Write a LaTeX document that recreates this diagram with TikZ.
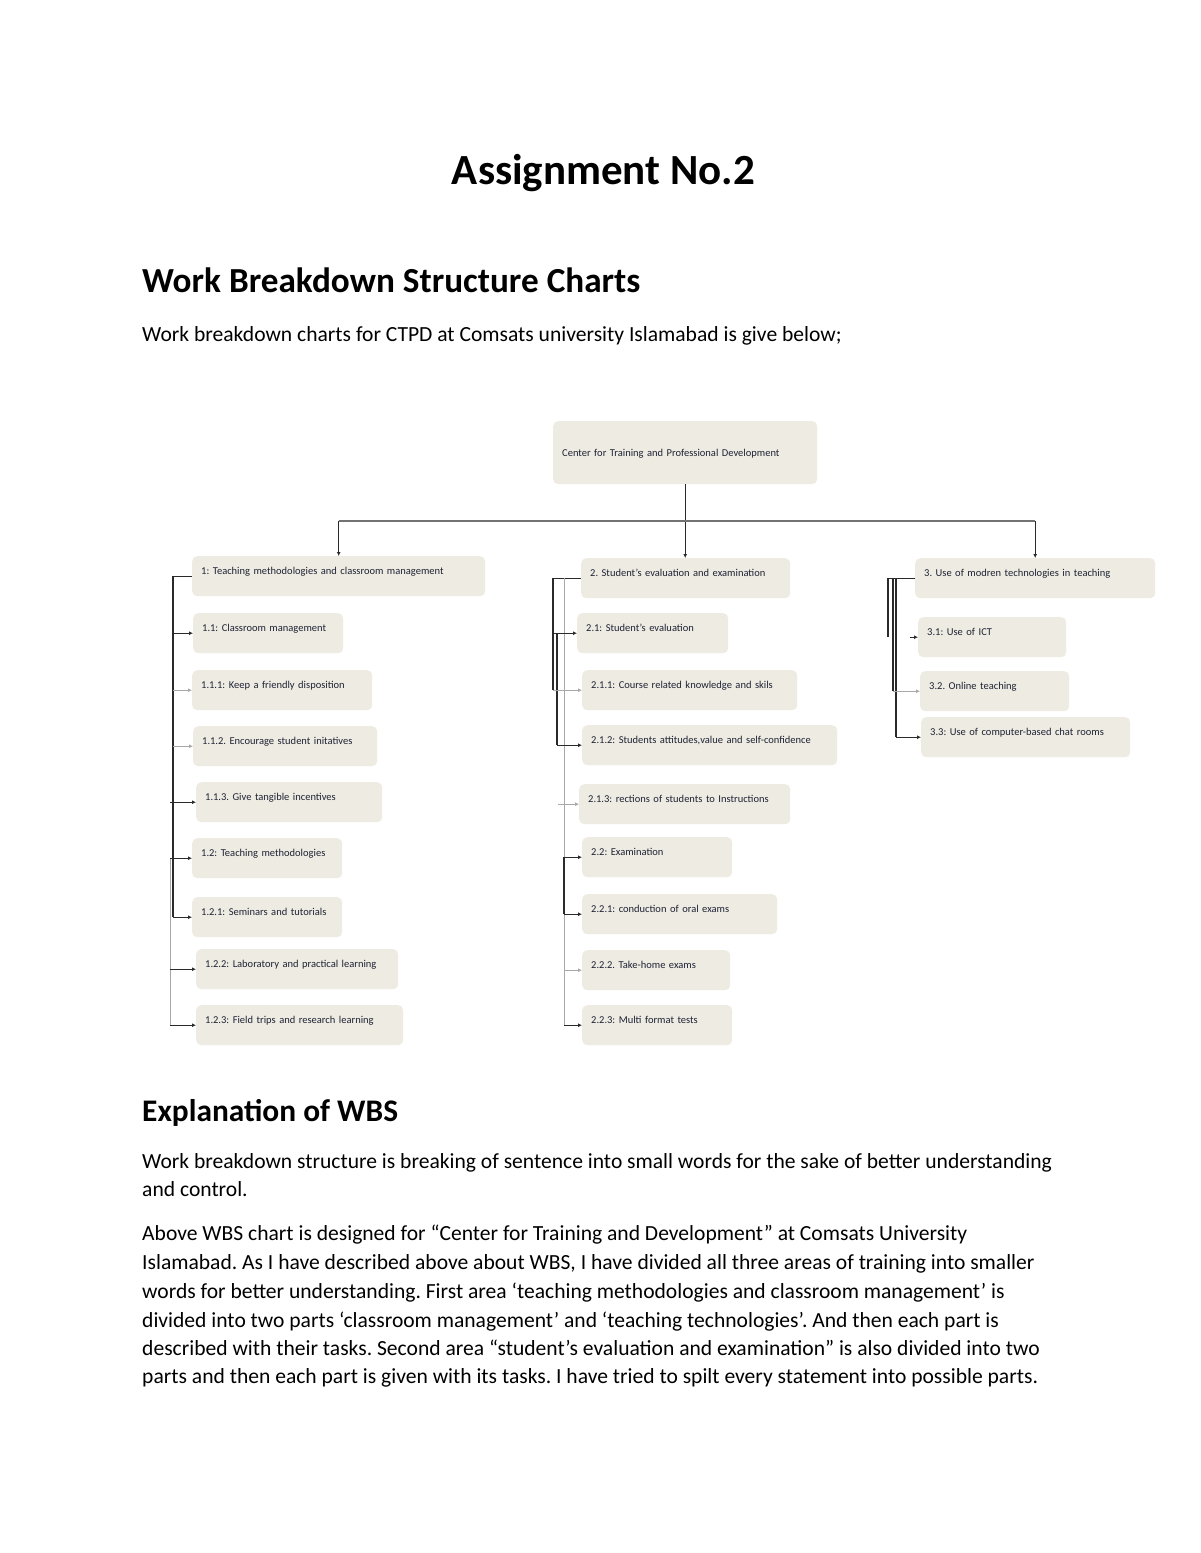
\documentclass[tikz,border=0pt]{standalone}
\usepackage{fontspec}
\setmainfont{Carlito}
\usetikzlibrary{arrows.meta}
\definecolor{boxfill}{HTML}{EEEBE3}
\definecolor{boxtext}{HTML}{1E2233}
\definecolor{lightline}{HTML}{A8A8A8}
\definecolor{darkline}{HTML}{2A2A2A}
\newcommand\wbsbox[5]{\node[wbox, text width=#3pt-18pt, text height=#4pt, text depth=40pt-#4pt] (#1) at #2 {#5};}
\frenchspacing
\begin{document}
\frenchspacing
\begin{tikzpicture}[x=1pt,y=-1pt,
  wbox/.style={fill=boxfill, rounded corners=5pt, anchor=north west, inner xsep=9pt, inner ysep=0pt, align=left, font=\fontsize{10.5}{12}\selectfont, text=boxtext},
  conn/.style={line width=1.2pt, darkline},
  connlight/.style={line width=0.9pt, lightline},
  arr/.style={-{Latex[length=4pt,width=4pt]}},
  title/.style={font=\fontsize{43}{52}\selectfont\bfseries, anchor=base},
  heading/.style={font=\fontsize{31.4}{38}\selectfont\bfseries, anchor=base west},
  bigheading/.style={font=\fontsize{35.2}{42}\selectfont\bfseries, anchor=base west},
  body/.style={font=\fontsize{21.57}{28.6}\selectfont, anchor=base west, inner sep=0pt},
]
\useasboundingbox (0,0) rectangle (1200,1553);

% ---------- text ----------
\node[title] (ttl) at (603.5,184) {Assignment No.2};
\node[bigheading, inner sep=0pt] (h1) at (142,292) {Work Breakdown Structure Charts};
\node[body] (p0) at (142,341) {Work breakdown charts for CTPD at Comsats university Islamabad is give below;};
\node[heading, inner sep=0pt] (h2) at (142,1121) {Explanation of WBS};
\node[body] (p1) at (142,1168) {Work breakdown structure is breaking of sentence into small words for the sake of better understanding};
\node[body] (p2) at (142,1196) {and control.};
\node[body] (p3) at (142,1240) {Above WBS chart is designed for “Center for Training and Development” at Comsats University};
\node[body] (p4) at (142,1269) {Islamabad. As I have described above about WBS, I have divided all three areas of training into smaller};
\node[body] (p5) at (142,1298) {words for better understanding. First area ‘teaching methodologies and classroom management’ is};
\node[body] (p6) at (142,1327) {divided into two parts ‘classroom management’ and ‘teaching technologies’. And then each part is};
\node[body] (p7) at (142,1355) {described with their tasks. Second area “student’s evaluation and examination” is also divided into two};
\node[body] (p8) at (142,1383) {parts and then each part is given with its tasks. I have tried to spilt every statement into possible parts.};

% ---------- chart boxes ----------
\node[wbox, text width=264pt-18pt, text height=35pt, text depth=28pt] (b0) at (553,421) {Center for Training and Professional Development};

\wbsbox{b1}{(192,556)}{293}{18}{1: Teaching methodologies and classroom management}
\wbsbox{b11}{(193,613)}{150}{18}{1.1: Classroom management}
\wbsbox{b111}{(192,670)}{180}{18}{1.1.1: Keep a friendly disposition}
\wbsbox{b112}{(193,726)}{184}{18}{1.1.2. Encourage student initatives}
\wbsbox{b113}{(196,782)}{186}{18}{1.1.3. Give tangible incentives}
\wbsbox{b12}{(192,838)}{150}{18}{1.2: Teaching methodologies}
\wbsbox{b121}{(192,897)}{150}{18}{1.2.1: Seminars and tutorials}
\wbsbox{b122}{(196,949)}{202}{18}{1.2.2: Laboratory and practical learning}
\wbsbox{b123}{(196,1005)}{207}{18}{1.2.3: Field trips and research learning}

\wbsbox{b2}{(581,558)}{209}{18}{2. Student’s evaluation and examination}
\wbsbox{b21}{(577,613)}{151}{18}{2.1: Student’s evaluation}
\wbsbox{b211}{(582,670)}{215}{18}{2.1.1: Course related knowledge and skils}
\wbsbox{b212}{(582,725)}{255}{18}{2.1.2: Students attitudes,value and self-confidence}
\wbsbox{b213}{(579,784)}{211}{18}{2.1.3: rections of students to Instructions}
\wbsbox{b22}{(582,837)}{150}{18}{2.2: Examination}
\wbsbox{b221}{(582,894)}{195}{18}{2.2.1: conduction of oral exams}
\wbsbox{b222}{(582,950)}{148}{18}{2.2.2. Take-home exams}
\wbsbox{b223}{(582,1005)}{150}{18}{2.2.3: Multi format tests}

\wbsbox{b3}{(915,558)}{240}{18}{3. Use of modren technologies in teaching}
\wbsbox{b31}{(918,617)}{148}{18}{3.1: Use of ICT}
\wbsbox{b32}{(920,671)}{149}{18}{3.2. Online teaching}
\wbsbox{b33}{(921,717)}{209}{18}{3.3: Use of computer-based chat rooms}

% ---------- top connectors ----------
\coordinate (bar) at (0,521);
\draw[conn, arr] (b0.south) -- (b0.south |- b2.north);
\draw[line width=1.5pt, black!55] (b1.north |- bar) -- (b3.north |- bar);
\draw[conn, arr] (b1.north |- bar) -- (b1.north);
\draw[conn, arr] (b3.north |- bar) -- (b3.north);

% ---------- column 1 ----------
\coordinate (t1) at (173,0);
\coordinate (u1) at (170,0);
\draw[conn] (b1.west) -- (t1 |- b1.west) -- (t1 |- b121.west);
\draw[connlight] (u1 |- b12.west) -- (u1 |- b123.west);
\draw[conn, arr] (t1 |- b11.west) -- (b11.west);
\draw[connlight, arr] (t1 |- b111.west) -- (b111.west);
\draw[connlight, arr] (t1 |- b112.west) -- (b112.west);
\draw[conn, arr] (u1 |- b113.west) -- (b113.west);
\draw[conn, arr] (u1 |- b12.west) -- (b12.west);
\draw[conn, arr] (t1 |- b121.west) -- (b121.west);
\draw[conn, arr] (u1 |- b122.west) -- (b122.west);
\draw[conn, arr] (u1 |- b123.west) -- (b123.west);

% ---------- column 2 ----------
\coordinate (t2) at (553,0);
\coordinate (v2) at (557,0);
\coordinate (w2) at (564,0);
\coordinate (s2) at (558,0);
\draw[conn] (b2.west) -- (t2 |- b2.west) -- (t2 |- b211.west);
\draw[conn] (v2 |- b21.west) -- (v2 |- b212.west);
\draw[connlight] (w2 |- b2.west) -- (w2 |- b223.west);
\draw[conn] (w2 |- b22.west) -- (w2 |- b221.west);
\draw[conn, arr] (t2 |- b21.west) -- (b21.west);
\draw[connlight, arr] (t2 |- b211.west) -- (b211.west);
\draw[conn, arr] (v2 |- b212.west) -- (b212.west);
\draw[connlight, line width=0.6pt, arr] (s2 |- b213.west) -- (b213.west);
\draw[conn, arr] (w2 |- b22.west) -- (b22.west);
\draw[conn, arr] (w2 |- b221.west) -- (b221.west);
\draw[connlight, arr] (w2 |- b222.west) -- (b222.west);
\draw[conn, arr] (w2 |- b223.west) -- (b223.west);

% ---------- column 3 ----------
\coordinate (t3) at (888,0);
\coordinate (v3) at (893,0);
\coordinate (w3) at (896,0);
\coordinate (a31) at (910,0);
\draw[conn] (b3.west) -- (t3 |- b3.west) -- (t3 |- b31.west);
\draw[conn] (v3 |- b3.west) -- (v3 |- b32.west);
\draw[conn] (w3 |- b3.west) -- (w3 |- b33.west);
\draw[conn, arr] (a31 |- b31.west) -- (b31.west);
\draw[connlight, arr] (v3 |- b32.west) -- (b32.west);
\draw[conn, arr] (w3 |- b33.west) -- (b33.west);
\end{tikzpicture}
\end{document}
